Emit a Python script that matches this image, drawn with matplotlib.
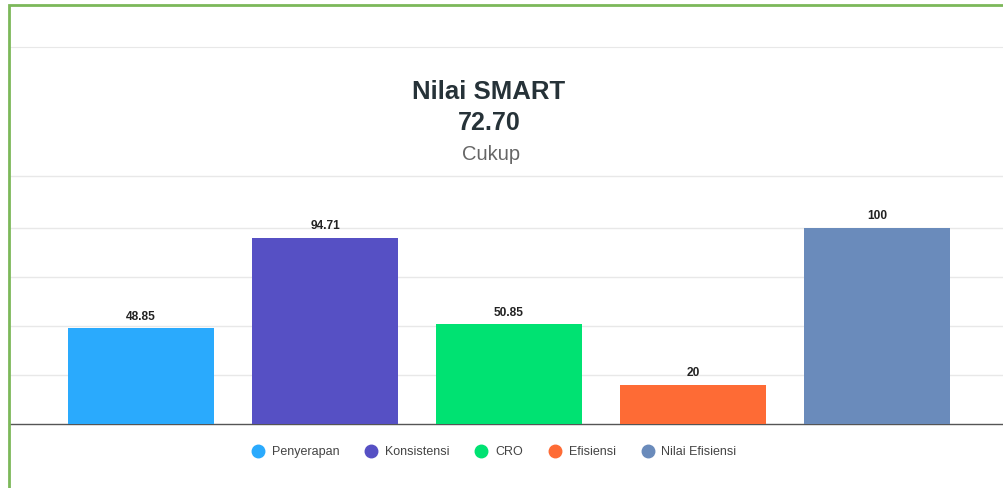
import matplotlib.pyplot as plt
from matplotlib.lines import Line2D
from matplotlib.patches import Rectangle

categories = ['Penyerapan', 'Konsistensi', 'CRO', 'Efisiensi', 'Nilai Efisiensi']
values = [48.85, 94.71, 50.85, 20, 100]
labels = ['48.85', '94.71', '50.85', '20', '100']
colors = ['#2aaafd', '#5650c4', '#00e272', '#fe6b35', '#6a8bbb']
grid_ticks = [25, 50, 75, 100, 126.5]
score = '72.70'
grade = 'Cukup'

plt.rcParams['font.family'] = ['Liberation Sans', 'DejaVu Sans']

fig = plt.figure(figsize=(10.04, 4.88), dpi=100)
W, H = 1004, 488
ax = fig.add_axes([10 / W, (H - 424) / H, 1 - 10 / W, (424 - 47) / H])

x = list(range(len(categories)))
ax.bar(x, values, width=0.793, color=colors, zorder=3)
for xi, v, lab in zip(x, values, labels):
    ax.annotate(lab, (xi, v), xytext=(0, 4), textcoords='offset points',
                ha='center', va='bottom', fontsize=8.6, fontweight='bold',
                color='#222222', zorder=4)

ax.set_xlim(-0.712, 4.69)
ax.set_ylim(0, 192)
ax.set_yticks(grid_ticks)
ax.yaxis.grid(True, color='#e8e8e8', linewidth=1)
ax.set_axisbelow(True)
ax.tick_params(left=False, bottom=False, labelleft=False, labelbottom=False)
for s in ['left', 'right']:
    ax.spines[s].set_visible(False)
ax.spines['top'].set_color('#e8e8e8')
ax.spines['bottom'].set_color('#555555')
ax.spines['bottom'].set_linewidth(1)

# titles
fig.text(489 / W, 1 - 92 / H, 'Nilai SMART', ha='center', va='center',
         fontsize=18.5, fontweight='bold', color='#263238')
fig.text(489 / W, 1 - 123 / H, score, ha='center', va='center',
         fontsize=18, fontweight='bold', color='#263238')
fig.text(491 / W, 1 - 154 / H, grade, ha='center', va='center',
         fontsize=14.5, color='#666666')

# legend
handles = [Line2D([], [], marker='o', linestyle='', markersize=9,
                  markerfacecolor=c, markeredgecolor=c) for c in colors]
fig.legend(handles, categories, loc='center', bbox_to_anchor=(491 / W, 1 - 452 / H),
           ncol=5, frameon=False, fontsize=9, handletextpad=0.1,
           columnspacing=1.55, labelcolor='#444444')

# green frame on left and top
fig.add_artist(Rectangle((9 / W, -0.05), 1.0, 1 - 5 / H + 0.05, transform=fig.transFigure,
                         fill=False, edgecolor='#7cb85a', linewidth=2))

fig.savefig('out.png', dpi=100)
